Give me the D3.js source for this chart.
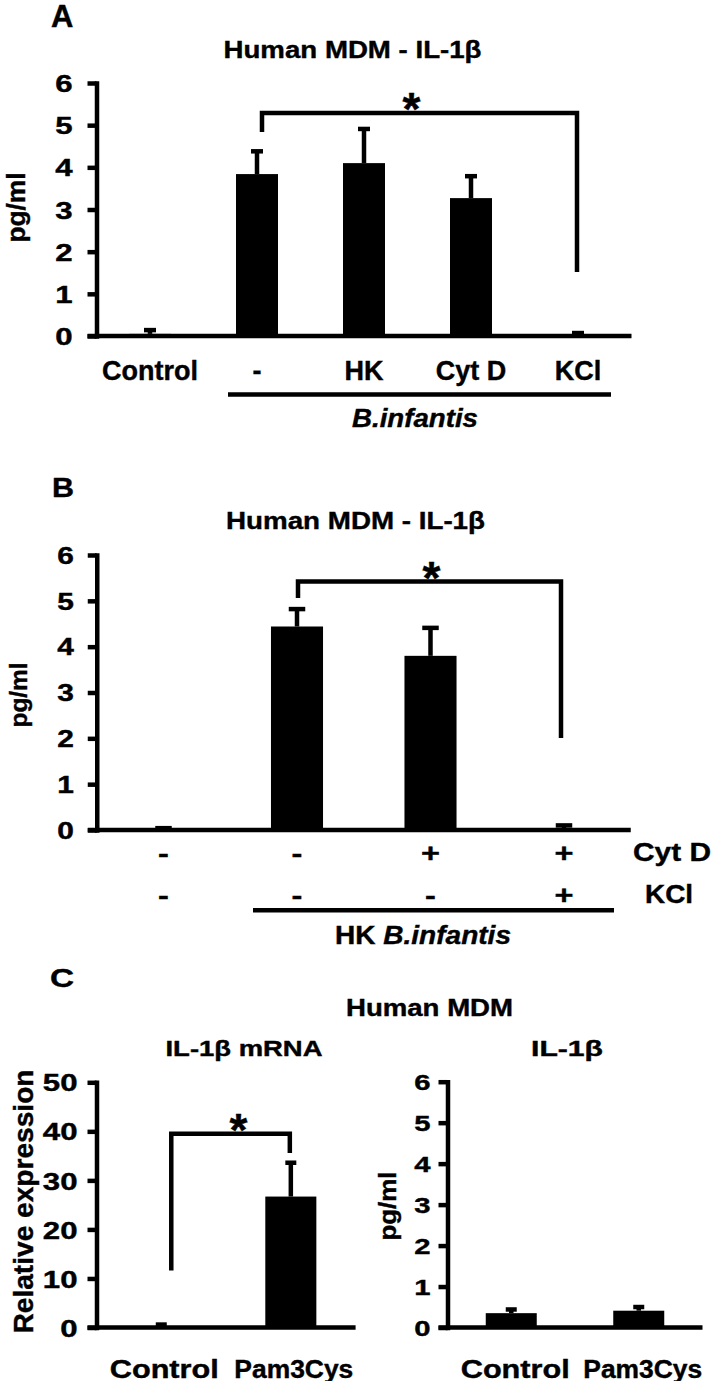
<!DOCTYPE html>
<html><head><meta charset="utf-8">
<script src="https://cdn.jsdelivr.net/npm/d3@7"></script>
<style>
body{margin:0;background:#fff}
svg{display:block}
text{font-family:"Liberation Sans",Arial,sans-serif;font-weight:bold;fill:#000;stroke:#000;stroke-width:0.4px}
</style>
</head><body>
<svg id="c" width="713" height="1381"></svg>
<script>
// ---------- Data ----------
// Panel A
const catsA = ["Control", "-", "HK", "Cyt D", "KCl"];
const meanA = [0.05, 3.84, 4.10, 3.27, 0.02];
const errA  = [0.09, 0.54, 0.81, 0.52, 0.05];
const ticksA = [0, 1, 2, 3, 4, 5, 6];
const bracketA = [4.84, 5.29, 1.52];   // left drop, top, right drop (pg/ml)
// Panel B
const catsB = ["g1", "g2", "g3", "g4"];
const cytdB = ["-", "-", "+", "+"];
const kclB  = ["-", "-", "-", "+"];
const meanB = [0.02, 4.44, 3.80, 0.04];
const errB  = [0.02, 0.38, 0.61, 0.06];
const ticksB = [0, 1, 2, 3, 4, 5, 6];
const bracketB = [5.06, 5.42, 2.01];
// Panel C
const catsC = ["Control", "Pam3Cys"];
const meanC1 = [0.3, 26.7];
const errC1  = [0.3, 6.9];
const ticksC1 = [0, 10, 20, 30, 40, 50];
const bracketC = [11.6, 39.5, 35.6];
const meanC2 = [0.35, 0.41];
const errC2  = [0.09, 0.09];
const ticksC2 = [0, 1, 2, 3, 4, 5, 6];

// ---------- Drawing ----------
const svg = d3.select("#c");
const LW = 4.5, TICK = 9, SX = 1.3;

function txt(s, x, y, fs, o = {}) {
  const t = svg.append("text").attr("font-size", fs).attr("text-anchor", o.anchor || "middle");
  if (o.rotate) t.attr("transform", `translate(${x},${y}) rotate(-90)`);
  else t.attr("x", x).attr("y", y);
  if (o.italic) t.attr("font-style", "italic");
  if (o.parts) o.parts.forEach(p => t.append("tspan").attr("font-style", p.italic ? "italic" : "normal").text(p.t));
  else t.text(s);
  if (o.w) t.attr("textLength", o.w).attr("lengthAdjust", "spacingAndGlyphs");
  return t;
}

function drawPanel(p) {
  const x = d3.scaleBand().domain(p.cats).range(p.xRange).paddingInner(p.pad).paddingOuter(p.pad / 2);
  const y = d3.scaleLinear().domain(p.yDomain).range(p.yRange);
  const cx = d => x(d) + x.bandwidth() / 2;
  const g = svg.append("g");
  g.selectAll(".bar").data(p.cats).join("rect").attr("class", "bar")
    .attr("x", d => x(d)).attr("width", x.bandwidth())
    .attr("y", (d, i) => y(p.means[i])).attr("height", (d, i) => y(0) - y(p.means[i]))
    .attr("fill", "#000");
  g.selectAll(".stem").data(p.cats).join("line").attr("class", "stem")
    .attr("x1", cx).attr("x2", cx)
    .attr("y1", (d, i) => y(p.means[i])).attr("y2", (d, i) => y(p.means[i] + p.errs[i]))
    .attr("stroke", "#000").attr("stroke-width", LW);
  g.selectAll(".cap").data(p.cats).join("line").attr("class", "cap")
    .attr("x1", d => cx(d) - p.capW / 2).attr("x2", d => cx(d) + p.capW / 2)
    .attr("y1", (d, i) => y(p.means[i] + p.errs[i])).attr("y2", (d, i) => y(p.means[i] + p.errs[i]))
    .attr("stroke", "#000").attr("stroke-width", LW);
  g.append("line").attr("x1", p.xRange[0] - TICK).attr("x2", p.xRange[1])
    .attr("y1", y(0)).attr("y2", y(0)).attr("stroke", "#000").attr("stroke-width", LW);
  const ax = g.append("g").attr("transform", `translate(${p.xRange[0]},0)`)
    .call(d3.axisLeft(y).tickValues(p.ticks).tickSize(TICK).tickSizeOuter(0).tickPadding(0).tickFormat(d3.format("d")));
  ax.select(".domain").attr("stroke-width", LW).attr("stroke-linecap", "square");
  ax.selectAll(".tick line").attr("stroke-width", LW);
  ax.selectAll(".tick text").attr("font-size", p.tickFs).attr("x", 0).attr("dy", null)
    .attr("transform", `translate(${-(TICK + p.tickPad)},${0.36 * p.tickFs}) scale(${SX},1)`);
  return { x, y, cx };
}

function bracket(P, a, b, vals, offA, offB, offS) {
  const xa = P.cx(a) + offA, xb = P.cx(b) + offB;
  const [dA, top, dB] = vals;
  svg.append("path").attr("d", `M${xa},${P.y(dA)}V${P.y(top)}H${xb}V${P.y(dB)}`)
    .attr("fill", "none").attr("stroke", "#000").attr("stroke-width", LW).attr("stroke-linejoin", "miter");
  txt("*", (xa + xb) / 2 + offS, P.y(top) - 13 + 0.555 * 46, 46);
}

// ----- Panel A -----
const PA = drawPanel({cats: catsA, means: meanA, errs: errA, ticks: ticksA, yDomain: [0, 6],
  yRange: [336, 83], xRange: [96.5, 631.5], pad: 0.6075, capW: 12, tickFs: 24, tickPad: 15});
txt("A", 51, 27, 31, {anchor: "start"});
txt("Human MDM - IL-1β", 352.5, 57.5, 24.5, {w: 258});
txt("pg/ml", 25, 207.5, 25, {rotate: true, w: 70});
catsA.forEach(c => txt(c, PA.cx(c), 380, 27));
svg.append("line").attr("x1", 228).attr("x2", 611).attr("y1", 394.5).attr("y2", 394.5).attr("stroke", "#000").attr("stroke-width", LW);
txt("B.infantis", 415, 427, 25, {italic: true, w: 126});
bracket(PA, "-", "KCl", bracketA, 5, -1, -8);

// ----- Panel B -----
const PB = drawPanel({cats: catsB, means: meanB, errs: errB, ticks: ticksB, yDomain: [0, 6],
  yRange: [830, 555], xRange: [96.75, 630.75], pad: 0.61, capW: 16.5, tickFs: 23, tickPad: 14});
txt("B", 52, 497, 28, {w: 22, anchor: "start"});
txt("Human MDM - IL-1β", 355.5, 528.5, 24.5, {w: 259});
txt("pg/ml", 27, 695, 24, {rotate: true, w: 65});
catsB.forEach((c, i) => {
  txt(cytdB[i], PB.cx(c), 862.5, 26).attr("transform", `translate(${PB.cx(c)},0) scale(1.25,1) translate(${-PB.cx(c)},0)`);
  txt(kclB[i], PB.cx(c), 904, 26).attr("transform", `translate(${PB.cx(c)},0) scale(1.25,1) translate(${-PB.cx(c)},0)`);
});
txt("Cyt D", 633, 861, 26.5, {anchor: "start", w: 78});
txt("KCl", 645, 903, 26, {anchor: "start", w: 48});
svg.append("line").attr("x1", 253).attr("x2", 614).attr("y1", 910.3).attr("y2", 910.3).attr("stroke", "#000").attr("stroke-width", LW);
txt("", 423, 943.5, 25, {w: 176, parts: [{t: "HK "}, {t: "B.infantis", italic: true}]});
bracket(PB, "g2", "g4", bracketB, 1, -3, 2);

// ----- Panel C -----
txt("C", 50, 987, 25, {w: 24, anchor: "start"});
txt("Human MDM", 429.5, 1015.5, 23, {w: 167});
const PC1 = drawPanel({cats: catsC, means: meanC1, errs: errC1, ticks: ticksC1, yDomain: [0, 50],
  yRange: [1327.5, 1082.3], xRange: [96.5, 355.6], pad: 0.606, capW: 11, tickFs: 24, tickPad: 10});
txt("IL-1β mRNA", 244, 1056, 22.5, {w: 157});
txt("Relative expression", 33, 1201.5, 27.5, {rotate: true, w: 264});
catsC.forEach((c, i) => txt(c, PC1.cx(c) + 3, 1377.5, 25, {w: i === 0 ? 109 : 119}));
bracket(PC1, "Control", "Pam3Cys", bracketC, 10, -1, 8);

const PC2 = drawPanel({cats: catsC, means: meanC2, errs: errC2, ticks: ticksC2, yDomain: [0, 6],
  yRange: [1327.5, 1081.7], xRange: [447.5, 702.5], pad: 0.6, capW: 11, tickFs: 22.5, tickPad: 8});
txt("IL-1β", 567, 1056, 22.5, {w: 72});
txt("pg/ml", 396, 1206, 23, {rotate: true, w: 69});
catsC.forEach((c, i) => txt(c, PC2.cx(c) + 4, 1377.5, 25, {w: i === 0 ? 109 : 119}));
</script>
</body></html>
